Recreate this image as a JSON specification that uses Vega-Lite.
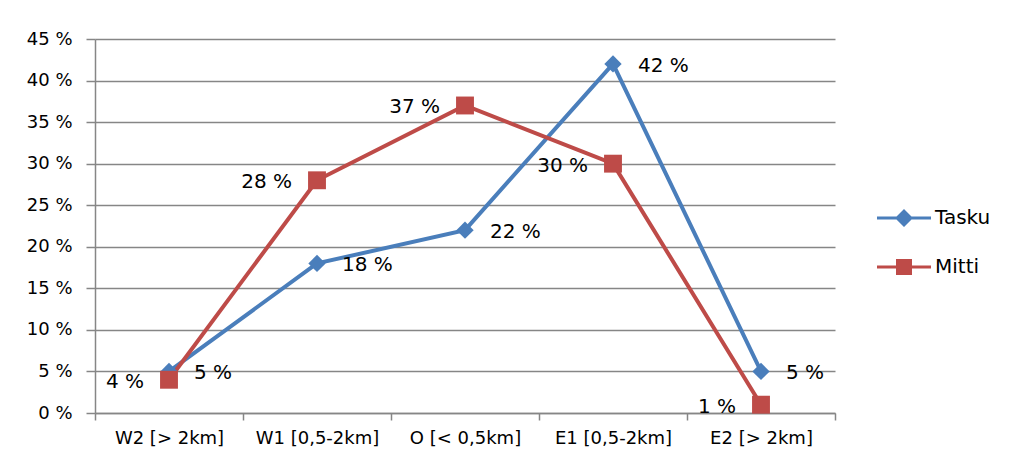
{
  "$schema": "https://vega.github.io/schema/vega-lite/v6.json",
  "width": 740,
  "height": 374,
  "autosize": {"type": "none"},
  "padding": {"left": 95, "top": 39, "right": 178, "bottom": 57},
  "background": "white",
  "config": {
    "view": {"stroke": null},
    "font": "DejaVu Sans",
    "axis": {
      "labelFont": "DejaVu Sans",
      "labelFontSize": 18,
      "labelColor": "#000000",
      "domainColor": "#868686",
      "tickColor": "#868686",
      "gridColor": "#868686",
      "domainWidth": 1.5,
      "tickWidth": 1.5,
      "gridWidth": 1.5,
      "title": null
    },
    "legend": {"labelFont": "DejaVu Sans", "labelFontSize": 20, "labelColor": "#000000"}
  },
  "data": {
    "values": [
      {"cat": "W2 [> 2km]", "series": "Tasku", "value": 5},
      {"cat": "W1 [0,5-2km]", "series": "Tasku", "value": 18},
      {"cat": "O [< 0,5km]", "series": "Tasku", "value": 22},
      {"cat": "E1 [0,5-2km]", "series": "Tasku", "value": 42},
      {"cat": "E2 [> 2km]", "series": "Tasku", "value": 5},
      {"cat": "W2 [> 2km]", "series": "Mitti", "value": 4},
      {"cat": "W1 [0,5-2km]", "series": "Mitti", "value": 28},
      {"cat": "O [< 0,5km]", "series": "Mitti", "value": 37},
      {"cat": "E1 [0,5-2km]", "series": "Mitti", "value": 30},
      {"cat": "E2 [> 2km]", "series": "Mitti", "value": 1}
    ]
  },
  "transform": [{"calculate": "datum.value + ' %'", "as": "label"}],
  "encoding": {
    "x": {
      "field": "cat",
      "type": "nominal",
      "sort": ["W2 [> 2km]", "W1 [0,5-2km]", "O [< 0,5km]", "E1 [0,5-2km]", "E2 [> 2km]"],
      "scale": {"type": "band", "paddingInner": 0, "paddingOuter": 0},
      "axis": {"labelAngle": 0, "tickBand": "extent", "tickSize": 7, "labelPadding": 9, "grid": false, "labelFontSize": 18}
    },
    "y": {
      "field": "value",
      "type": "quantitative",
      "scale": {"domain": [0, 45], "nice": false},
      "axis": {"values": [0, 5, 10, 15, 20, 25, 30, 35, 40, 45], "labelExpr": "datum.value + ' %'", "tickSize": 9, "labelPadding": 14, "grid": true, "labelFontSize": 18}
    },
    "color": {
      "field": "series",
      "type": "nominal",
      "scale": {"domain": ["Tasku", "Mitti"], "range": ["#4a7ebb", "#be4b48"]},
      "legend": {
        "title": null,
        "orient": "none",
        "legendX": 799,
        "legendY": 169,
        "symbolSize": 400,
        "symbolStrokeWidth": 0,
        "symbolOpacity": 1,
        "labelOffset": 21,
        "rowPadding": 29
      }
    }
  },
  "layer": [
    {
      "mark": {"type": "line", "strokeWidth": 4}
    },
    {
      "transform": [{"filter": "datum.series === 'Tasku'"}],
      "mark": {"type": "point", "filled": true, "opacity": 1, "shape": "diamond", "size": 300}
    },
    {
      "transform": [{"filter": "datum.series === 'Mitti'"}],
      "mark": {"type": "point", "filled": true, "opacity": 1, "shape": "square", "size": 320}
    },
    {
      "transform": [{"filter": "false"}],
      "mark": {"type": "point", "filled": true, "opacity": 1},
      "encoding": {
        "shape": {
          "field": "series",
          "type": "nominal",
          "scale": {
            "domain": ["Tasku", "Mitti"],
            "range": [
              "M-2.7,-0.15L2.7,-0.15L2.7,0.15L-2.7,0.15Z M0,-0.9L0.9,0L0,0.9L-0.9,0Z",
              "M-2.7,-0.15L2.7,-0.15L2.7,0.15L-2.7,0.15Z M-0.8,-0.8L0.8,-0.8L0.8,0.8L-0.8,0.8Z"
            ]
          }
        }
      }
    },
    {
      "transform": [{"filter": "datum.series === 'Tasku'"}],
      "mark": {"type": "text", "align": "left", "baseline": "middle", "dx": 25, "dy": 2, "fontSize": 20, "font": "DejaVu Sans"},
      "encoding": {"text": {"field": "label"}, "color": {"value": "#000000"}}
    },
    {
      "transform": [{"filter": "datum.series === 'Mitti'"}],
      "mark": {"type": "text", "align": "right", "baseline": "middle", "dx": -25, "dy": 2, "fontSize": 20, "font": "DejaVu Sans"},
      "encoding": {"text": {"field": "label"}, "color": {"value": "#000000"}}
    }
  ]
}
